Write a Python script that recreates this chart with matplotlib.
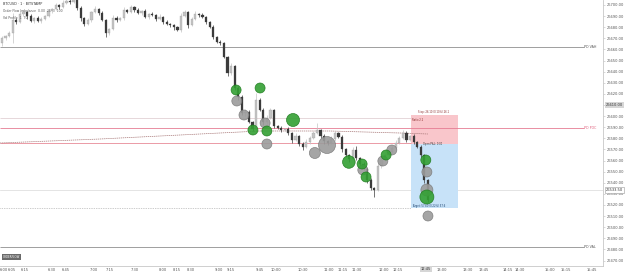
import numpy as np
import matplotlib.pyplot as plt
import matplotlib.transforms as mtransforms

# candle closes (price), open of first candle, wick sizes
first_open = 26665.8
closes = [26670.3, 26672.1, 26674.8, 26686.5, 26684.7, 26691.9, 26693.7, 26690.1, 26685.6, 26688.3,
          26685.6, 26687.4, 26690.1, 26694.6, 26696.4, 26700.0, 26698.2, 26701.8, 26703.6, 26702.7,
          26704.5, 26697.3, 26688.3, 26682.9, 26686.5, 26693.7, 26696.4, 26692.8, 26686.5, 26674.8,
          26678.4, 26688.3, 26686.5, 26688.3, 26695.5, 26693.7, 26698.2, 26695.5, 26692.8, 26694.6,
          26689.2, 26691.9, 26691.0, 26687.4, 26689.2, 26684.7, 26682.9, 26682.0, 26680.2, 26677.5,
          26690.1, 26693.7, 26682.0, 26687.4, 26691.9, 26691.0, 26689.2, 26684.7, 26680.2, 26671.2,
          26666.7, 26665.8, 26653.2, 26638.8, 26645.1, 26625.3, 26617.2, 26602.8, 26603.7, 26594.7,
          26588.4, 26614.5, 26605.5, 26594.7, 26598.3, 26605.5, 26591.1, 26589.3, 26587.5, 26588.4,
          26584.8, 26578.5, 26582.1, 26574.9, 26572.2, 26576.7, 26580.3, 26584.8, 26587.5, 26582.1,
          26577.6, 26575.8, 26579.4, 26584.8, 26581.2, 26570.4, 26565.0, 26561.4, 26569.5, 26562.3,
          26556.9, 26552.4, 26542.5, 26535.3, 26533.5, 26555.1, 26560.5, 26565.0, 26567.7, 26571.3,
          26575.8, 26580.3, 26584.8, 26578.5, 26582.1, 26576.7, 26572.2, 26565.0, 26542.5, 26524.5]
wick_up = [1.8, 0.9, 1.8, 6.3, 1.8, 2.7, 1.8, 0.9, 1.8, 0.9, 1.8, 1.8, 0.9, 1.8, 0.9, 1.8, 0.9, 2.7, 3.6, 1.8,
           2.7, 0.9, 1.8, 0.9, 1.8, 0.9, 2.7, 0.9, 1.8, 0.9, 0.9, 2.7, 1.8, 0.9, 2.7, 0.9, 1.8, 0.9, 1.8, 0.9,
           1.8, 0.9, 1.8, 0.9, 2.7, 0.9, 1.8, 0.9, 0.9, 0.9, 2.7, 1.8, 0.9, 1.8, 2.7, 0.9, 1.8, 0.9, 0.9, 1.8,
           0.9, 1.8, 0.9, 0.9, 2.7, 0.9, 1.8, 1.8, 2.7, 1.8, 0.9, 6.3, 1.8, 1.8, 2.7, 1.8, 0.9, 0.9, 1.8, 0.9,
           1.8, 0.9, 2.7, 0.9, 1.8, 2.7, 1.8, 1.8, 6.3, 0.9, 1.8, 0.9, 2.7, 1.8, 0.9, 1.8, 0.9, 0.9, 2.7, 3.6,
           0.9, 1.8, 0.9, 1.8, 0.9, 2.7, 1.8, 0.9, 1.8, 1.8, 2.7, 1.8, 2.7, 1.8, 0.9, 1.8, 0.9, 1.8, 0.9, 0.9]
wick_dn = [2.7, 1.8, 0.9, 9.0, 1.8, 0.9, 1.8, 2.7, 0.9, 1.8, 0.9, 1.8, 0.9, 0.9, 1.8, 0.9, 1.8, 0.9, 0.9, 1.8,
           0.9, 1.8, 2.7, 1.8, 0.9, 1.8, 0.9, 1.8, 0.9, 3.6, 1.8, 0.9, 1.8, 0.9, 1.8, 0.9, 0.9, 1.8, 0.9, 1.8,
           0.9, 1.8, 0.9, 1.8, 0.9, 1.8, 0.9, 1.8, 2.7, 0.9, 1.8, 0.9, 2.7, 0.9, 0.9, 1.8, 0.9, 1.8, 0.9, 1.8,
           0.9, 1.8, 0.9, 2.7, 1.8, 1.8, 2.7, 1.8, 2.7, 0.9, 1.8, 1.8, 0.9, 2.7, 1.8, 0.9, 1.8, 0.9, 1.8, 0.9,
           1.8, 2.7, 0.9, 1.8, 2.7, 0.9, 1.8, 0.9, 0.9, 1.8, 2.7, 1.8, 0.9, 1.8, 0.9, 2.7, 1.8, 2.7, 0.9, 1.8,
           1.8, 0.9, 2.7, 1.8, 6.3, 0.9, 1.8, 0.9, 1.8, 0.9, 1.8, 0.9, 0.9, 1.8, 0.9, 1.8, 0.9, 1.8, 2.7, 1.8]

# volume bubbles (candle index, price, relative size)
green_idx = [65.4, 72.1, 70.1, 74.0, 81.3, 96.9, 100.6, 101.7, 107.3, 118.4, 118.7]
green_px = [26623.5, 26625.3, 26587.5, 26586.6, 26596.5, 26558.7, 26556.9, 26545.2, 26565.0, 26560.5, 26527.2]
green_vol = [5, 5, 5, 5, 6.5, 6.3, 5, 5, 5, 5, 7]
gray_idx = [65.6, 67.6, 73.5, 74.0, 90.8, 87.4, 100.8, 106.4, 108.9, 118.7, 118.7, 119.0]
gray_px = [26613.6, 26601.0, 26593.8, 26574.9, 26574.0, 26566.8, 26551.5, 26559.6, 26569.5, 26549.7, 26533.5, 26510.1]
gray_vol = [5, 5, 5, 5, 8.5, 5.5, 5, 5, 5, 5, 6, 5]

# vwap-like curve
vwap_idx = [-0.56, 27.4, 55.3, 72.1, 91.6, 111.2, 119.0]
vwap_px = [26575.8, 26579.4, 26583.9, 26586.6, 26586.6, 26584.8, 26583.9]

# key levels
pd_vah = 26662.2
pd_poc = 26589.3
pd_val = 26482.2
lvl_light = 26598.3
lvl_red = 26575.8
lvl_last = 26533.5
lvl_dot = 26517.3
lvl_mark = 26610.0

# position tool
pos_x0, pos_x1 = 114.2, 127.4
stop_px, entry_px, target_px = 26601.0, 26574.9, 26517.3

time_tick_idx = [0.6, 2.8, 6.4, 14.0, 17.9, 25.7, 30.2, 37.2, 45.0, 48.9, 52.8, 60.6, 64.0, 72.1, 76.5,
                 84.1, 91.3, 95.2, 99.2, 106.7, 110.6, 122.9, 130.2, 134.6, 141.3, 144.7, 153.0, 157.5, 164.8]
time_labels = ['6:00', '6:05', '6:15', '6:30', '6:45', '7:00', '7:15', '7:30', '8:00', '8:15', '8:30', '9:00',
               '9:15', '9:45', '10:00', '10:30', '11:00', '11:15', '11:30', '12:00', '12:15', '13:00', '13:30',
               '13:45', '14:15', '14:30', '15:00', '15:15', '15:45']
cur_idx, cur_label = 118.4, '12:45'

opens = [first_open] + closes[:-1]
x = np.arange(len(closes))

fig = plt.figure(figsize=(6.25, 2.75), dpi=100)
ax = fig.add_axes([0, 9 / 275, 603 / 625, 266 / 275])

for i in x:
    o, c = opens[i], closes[i]
    up = c >= o
    col = '#c4c4c4' if up else '#3b3b3b'
    ax.vlines(i, min(o, c) - wick_dn[i], max(o, c) + wick_up[i], color=col, lw=0.5, zorder=3)
    ax.bar(i, max(abs(c - o), 0.4), bottom=min(o, c), width=0.62, color=col,
           edgecolor='#9a9a9a' if up else col, linewidth=0.2, zorder=3)

# horizontal levels
ax.hlines(pd_vah, -0.56, 162.5, color='#8f8f8f', lw=0.6, zorder=2)
ax.hlines(pd_poc, -0.56, 162.5, color='#e57c93', lw=0.6, zorder=2)
ax.hlines(pd_val, -0.56, 162.5, color='#8f8f8f', lw=0.6, zorder=2)
ax.hlines(lvl_light, -0.56, pos_x0, color='#dcc8cc', lw=0.5, zorder=2)
ax.hlines(lvl_red, -0.56, pos_x0, color='#e88a98', lw=0.6, zorder=2)
ax.axhline(lvl_last, color='#d9d9d9', lw=0.5, zorder=1)
ax.hlines(lvl_dot, -0.56, pos_x0, color='#9a9a9a', lw=0.5, ls=(0, (1, 1.5)), zorder=2)
ax.plot(vwap_idx, vwap_px, color='#a87878', lw=0.5, ls=(0, (2, 1)), zorder=2)

for lvl, txt, col in [(pd_vah, 'PD VAH', '#555555'), (pd_poc, 'PD POC', '#e0607d'), (pd_val, 'PD VAL', '#555555')]:
    ax.text(166.0, lvl, txt, fontsize=2.3, color=col, ha='right', va='center')

# position tool
ax.fill_between([pos_x0, pos_x1], entry_px, stop_px, color='#f9c6cb', lw=0, zorder=1)
ax.fill_between([pos_x0, pos_x1], target_px, entry_px, color='#c7e2f8', lw=0, zorder=1)
ax.text(120.5, stop_px + 0.6, 'Stop: 26.10 (0.10%) 26.1', fontsize=1.8, color='#8a2a2a', ha='center', va='bottom')
ax.text(pos_x0 + 0.3, stop_px - 2.5, 'Ratio 2.2', fontsize=1.8, color='#8a2a2a', ha='left', va='top')
ax.text(pos_x0 + 3.5, entry_px + 0.3, 'Open P&L: 0.00', fontsize=1.8, color='#333333', ha='left', va='center')
ax.text(pos_x0 + 0.3, target_px + 0.3, 'Target: 57.60 (0.22%) 57.6', fontsize=1.8, color='#1a3f6a',
        ha='left', va='bottom')

# volume bubbles
gs = [(2 * r * 0.72) ** 2 for r in green_vol]
ys = [(2 * r * 0.72) ** 2 for r in gray_vol]
ax.scatter(gray_idx, gray_px, s=ys, color='#9b9b9b', edgecolor='#7a7a7a', linewidth=0.5, alpha=0.9, zorder=5)
ax.scatter(green_idx, green_px, s=gs, color='#33a033', edgecolor='#1d7a1d', linewidth=0.5, alpha=0.9, zorder=6)

ax.set_xlim(-0.56, 167.9)
ax.set_ylim(26465.1, 26704.5)

# price axis on right (the marked level takes the place of its tick label)
ax.yaxis.tick_right()
yt = np.arange(26470, 26701, 10)
ax.set_yticks(yt)
ax.set_yticklabels(['' if abs(v - lvl_mark) < 1 else '%.2f' % v for v in yt], fontsize=2.6, color='#555555')
ax.tick_params(axis='y', length=1.5, width=0.4, pad=1.5, color='#bbbbbb')
ax.set_xticks(time_tick_idx)
ax.set_xticklabels(time_labels, fontsize=2.6, color='#555555')
ax.tick_params(axis='x', length=0, pad=1.5)

for s in ['top', 'left']:
    ax.spines[s].set_visible(False)
for s in ['right', 'bottom']:
    ax.spines[s].set_color('#c8c8c8')
    ax.spines[s].set_linewidth(0.6)

trans = mtransforms.blended_transform_factory(ax.transAxes, ax.transData)
ax.text(1.004, lvl_mark, '%.2f' % lvl_mark, transform=trans, fontsize=2.6, color='#333333', va='center', ha='left',
        bbox=dict(boxstyle='square,pad=0.25', fc='#d6d6d6', ec='none'), clip_on=False)
ax.text(1.004, lvl_last, '%.2f' % lvl_last, transform=trans, fontsize=2.6, color='#333333', va='center', ha='left',
        bbox=dict(boxstyle='square,pad=0.25', fc='white', ec='#999999', lw=0.4), clip_on=False, zorder=10)
transx = mtransforms.blended_transform_factory(ax.transData, ax.transAxes)
ax.text(cur_idx, -0.005, cur_label, transform=transx, fontsize=2.6, color='#333333', va='top', ha='center',
        bbox=dict(boxstyle='square,pad=0.3', fc='#d6d6d6', ec='none'), clip_on=False)

# legend / header texts
fig.text(3 / 625, 1 - 4 / 275, 'BTCUSD · 1 · BITSTAMP', fontsize=2.4, color='#333333', va='center')
fig.text(3 / 625, 1 - 11 / 275, 'Order Flow Imbalance  0.00  25  3  100', fontsize=2.2, color='#555555', va='center')
fig.text(3 / 625, 1 - 18 / 275, 'Vol Profile  1  70', fontsize=2.2, color='#555555', va='center')
fig.text(3 / 625, 18 / 275, 'ORDERFLOW', fontsize=2.0, color='white', va='center',
         bbox=dict(boxstyle='square,pad=0.3', fc='#6a6a6a', ec='none'))

fig.savefig('out.png', dpi=100)
